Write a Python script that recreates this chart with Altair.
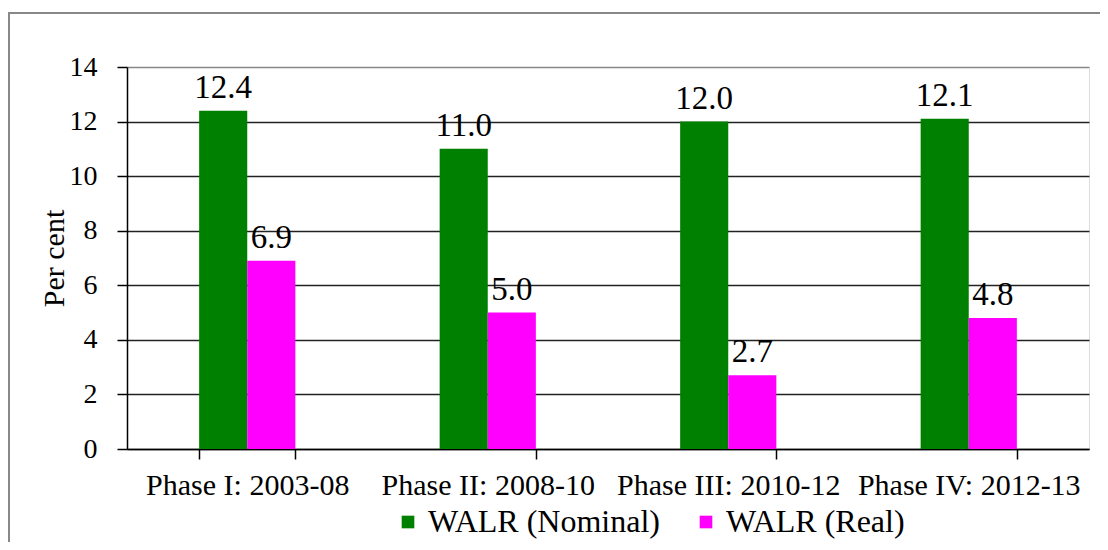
import altair as alt
import pandas as pd

phases = ["Phase I: 2003-08", "Phase II: 2008-10", "Phase III: 2010-12", "Phase IV: 2012-13"]
nominal = [12.4, 11.0, 12.0, 12.1]
real = [6.9, 5.0, 2.7, 4.8]
series = ["WALR (Nominal)", "WALR (Real)"]
colors = ["#008000", "#FF00FF"]

rows = []
for p, n, r in zip(phases, nominal, real):
    rows.append({"phase": p, "series": series[0], "value": n})
    rows.append({"phase": p, "series": series[1], "value": r})
df = pd.DataFrame(rows)

FONT = "Liberation Serif"

x = alt.X("phase:N", sort=phases, title=None,
          scale=alt.Scale(paddingInner=0.6, paddingOuter=0.3),
          axis=alt.Axis(labelAngle=0, tickBand="extent", tickSize=10, labelPadding=11,
                        labelFontSize=30, labelFont=FONT, labelColor="black", labelLimit=0,
                        domainColor="black", tickColor="black", domainWidth=1.5, tickWidth=1.5,
                        grid=False))
xo = alt.XOffset("series:N", sort=series, scale=alt.Scale(paddingOuter=0, paddingInner=0))
y = alt.Y("value:Q", title="Per cent",
          scale=alt.Scale(domain=[0, 14], nice=False),
          axis=alt.Axis(values=[0, 2, 4, 6, 8, 10, 12, 14], tickSize=10, labelPadding=20,
                        labelFontSize=28, labelFont=FONT, labelColor="black",
                        titleFont=FONT, titleFontSize=30, titleFontWeight="normal",
                        titleColor="black", titlePadding=0,
                        domainColor="black", tickColor="black", domainWidth=1.5, tickWidth=1.5,
                        gridColor=alt.condition("datum.value == 14", alt.value("#888888"), alt.value("#222222")),
                        gridWidth=1.5))

color = alt.Color("series:N", sort=series, scale=alt.Scale(domain=series, range=colors),
                  legend=alt.Legend(title=None, orient="none", direction="horizontal",
                                    legendX=265, legendY=439,
                                    symbolType="square", symbolSize=160, symbolStrokeWidth=0,
                                    labelFont=FONT, labelFontSize=32, labelColor="black",
                                    labelLimit=0, columnPadding=30, labelOffset=4))

bars = alt.Chart(df).mark_bar().encode(x=x, xOffset=xo, y=y, color=color)
labels = alt.Chart(df).mark_text(dy=-13, baseline="alphabetic", font=FONT, fontSize=33,
                                 color="black").encode(
    x=x, xOffset=xo, y=y, text=alt.Text("value:Q", format=".1f"))

frame = alt.Chart(alt.Data(values=[{}])).mark_rect(
    filled=False, stroke="#888888", strokeWidth=2).encode(
    x=alt.value(-118), x2=alt.value(1200), y=alt.value(-54), y2=alt.value(700))

chart = alt.layer(frame, bars, labels).properties(
    width=962, height=382,
    autosize=alt.AutoSizeParams(type="none"),
    padding={"left": 119, "top": 59, "right": 11, "bottom": 93},
).configure_view(stroke="#888888", strokeWidth=1.5).configure(background="white")

chart.save("out.html", embed_options={"renderer": "svg", "actions": False})
